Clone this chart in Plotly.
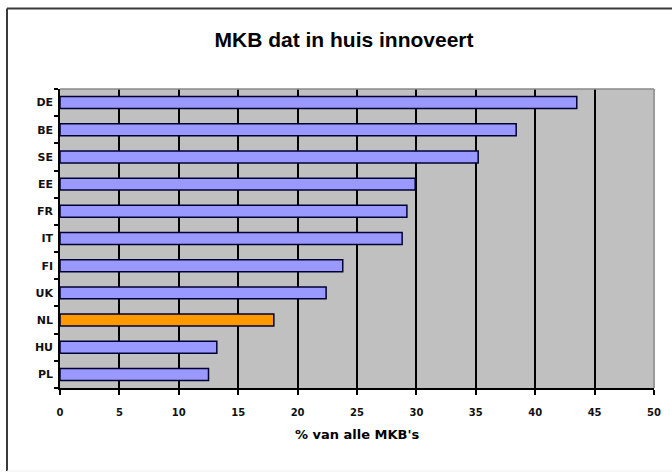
import plotly.graph_objects as go

# Share of SMEs innovating in-house, per country (%)
countries = ["DE", "BE", "SE", "EE", "FR", "IT", "FI", "UK", "NL", "HU", "PL"]
values = [43.5, 38.4, 35.2, 29.9, 29.2, 28.8, 23.8, 22.4, 18.0, 13.2, 12.5]
highlight = "NL"

x_ticks = list(range(0, 51, 5))

bar_colors = ["#ff9900" if c == highlight else "#9999ff" for c in countries]

fig = go.Figure(
    go.Bar(
        x=values,
        y=countries,
        orientation="h",
        marker=dict(color=bar_colors, line=dict(color="#000033", width=1.5)),
        width=0.44,
    )
)

fig.update_layout(
    width=672,
    height=475,
    margin=dict(l=60, r=18, t=89, b=87),
    paper_bgcolor="white",
    plot_bgcolor="#c0c0c0",
    showlegend=False,
    title=dict(
        text="MKB dat in huis innoveert",
        x=344 / 672,
        xanchor="center",
        y=1 - 40 / 475,
        yanchor="middle",
        xref="container",
        yref="container",
        font=dict(family="Liberation Sans", size=21, color="black", weight="bold"),
    ),
    font=dict(family="Liberation Sans", color="black"),
)

fig.update_xaxes(
    range=[0, 50],
    tickvals=x_ticks,
    showgrid=True,
    gridcolor="black",
    gridwidth=1.5,
    zeroline=False,
    showline=True,
    linecolor="black",
    linewidth=1.5,
    ticks="outside",
    ticklen=5,
    tickcolor="black",
    tickwidth=1.5,
    ticklabelstandoff=9,
    tickfont=dict(family="DejaVu Sans", size=10, weight="bold", color="#111"),
    title=dict(
        text="% van alle MKB's",
        font=dict(family="DejaVu Sans", size=13, weight="bold", color="black"),
        standoff=13,
    ),
    fixedrange=True,
)

fig.update_yaxes(
    categoryorder="array",
    categoryarray=countries[::-1],
    showgrid=False,
    zeroline=False,
    showline=True,
    linecolor="black",
    linewidth=1.5,
    ticks="outside",
    tickson="boundaries",
    ticklen=4,
    tickcolor="black",
    tickwidth=1.5,
    ticklabelstandoff=3,
    tickfont=dict(family="DejaVu Sans", size=11, weight="bold", color="#111"),
    fixedrange=True,
)

# Light edges of the plotting area (top and right)
fig.add_shape(type="line", xref="paper", yref="paper", x0=0, x1=1, y0=1, y1=1,
              line=dict(color="#8a8a8a", width=1.5), layer="above")
fig.add_shape(type="line", xref="paper", yref="paper", x0=1, x1=1, y0=0, y1=1,
              line=dict(color="#9a9a9a", width=2), layer="above")

# Outer chart frame, open on the right
frame_left = (7 - 60) / 594
frame_top = 1 + (89 - 8.5) / 299
frame_bottom = -(471 - 388) / 299
fig.add_shape(type="line", xref="paper", yref="paper", x0=frame_left, x1=1.2,
              y0=frame_top, y1=frame_top, line=dict(color="#3a3a3a", width=2))
fig.add_shape(type="line", xref="paper", yref="paper", x0=frame_left, x1=frame_left,
              y0=frame_bottom, y1=frame_top, line=dict(color="#3a3a3a", width=2))
fig.add_shape(type="line", xref="paper", yref="paper", x0=frame_left, x1=1.2,
              y0=frame_bottom, y1=frame_bottom, line=dict(color="#eeeeee", width=1))

fig.write_html("out.html")
